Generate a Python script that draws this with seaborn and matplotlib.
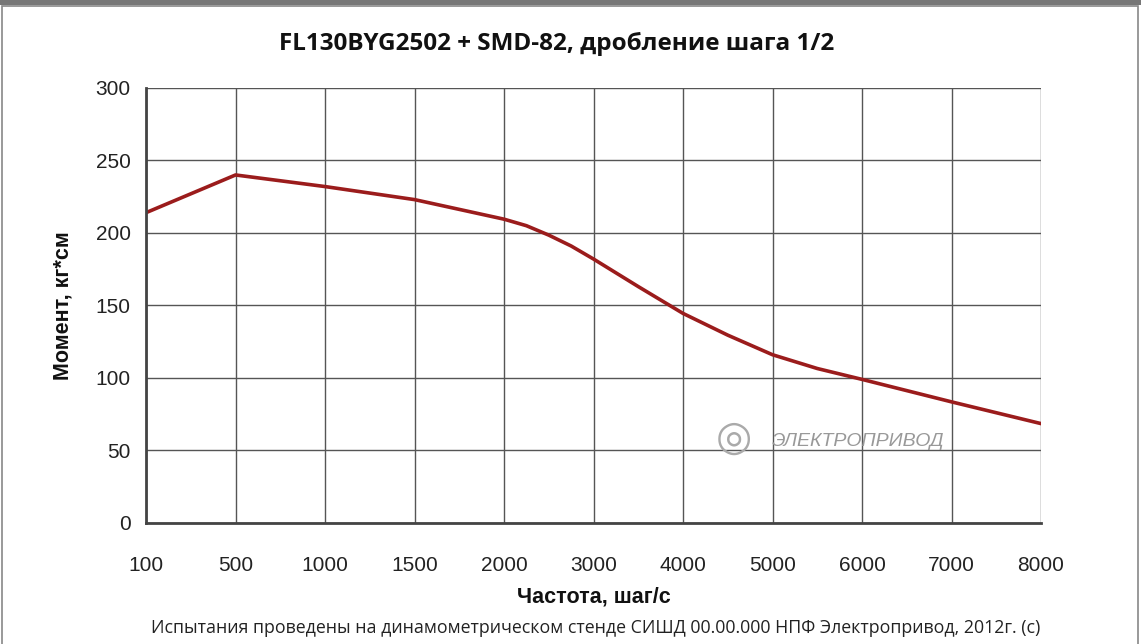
import numpy as np
import pandas as pd
import matplotlib.pyplot as plt
import seaborn as sns
from matplotlib.patches import Rectangle

# axis tick labels (the x axis is categorical: equal spacing between ticks)
tick_freq = [100, 500, 1000, 1500, 2000, 3000, 4000, 5000, 6000, 7000, 8000]
y_ticks = [0, 50, 100, 150, 200, 250, 300]

# curve
freq = [100, 500, 1000, 1500, 2000, 2250, 2500, 2750, 3000, 3500, 4000, 4500, 5000, 5500, 6000, 7000, 8000]
torque = [214, 240, 232, 223, 209.5, 205, 198.5, 191, 182, 163, 144.5, 129.5, 116, 106.5, 99, 83.5, 68.5]

sns.set_style("white")
plt.rcParams['font.family'] = ['Liberation Sans', 'DejaVu Sans']

# map frequency onto the category grid
pos = np.interp(freq, tick_freq, np.arange(len(tick_freq)))
df = pd.DataFrame({'pos': pos, 'torque': torque})

fig = plt.figure(figsize=(11.41, 6.44), dpi=100)
ax = fig.add_axes([0.128, 0.188, 0.7844, 0.6754])

ax.grid(True, color='#555555', linewidth=1)
ax.set_axisbelow(True)
sns.lineplot(data=df, x='pos', y='torque', ax=ax, color='#9b1c1c', linewidth=2.6)

ax.set_xlim(0, len(tick_freq) - 1)
ax.set_ylim(0, 300)
ax.set_xticks(np.arange(len(tick_freq)))
ax.set_xticklabels([str(t) for t in tick_freq])
ax.set_yticks(y_ticks)
ax.tick_params(axis='y', length=8, width=1.5, color='#444444', labelsize=15, labelcolor='#222222', pad=3)
ax.tick_params(axis='x', length=0, labelsize=15, labelcolor='#222222', pad=24)

for s in ['top', 'right']:
    ax.spines[s].set_visible(False)
for s in ['left', 'bottom']:
    ax.spines[s].set_color('#444444')
    ax.spines[s].set_linewidth(2)

ax.set_xlabel('Частота, шаг/с', fontsize=15.5, fontweight='bold', labelpad=8, color='#111111')
ax.set_ylabel('Момент, кг*см', fontsize=15.5, fontweight='bold', labelpad=16, color='#111111')

fig.text(0.4875, 0.932, 'FL130BYG2502 + SMD-82, дробление шага 1/2', ha='center', va='center',
         fontsize=17.5, fontweight='bold', family=['Open Sans', 'DejaVu Sans'], color='#111111')
fig.text(0.522, 0.025, 'Испытания проведены на динамометрическом стенде СИШД 00.00.000 НПФ Электропривод, 2012г. (с)',
         ha='center', va='center', fontsize=12.8, family=['Open Sans', 'DejaVu Sans'], color='#222222')

# watermark
fig.text(0.643, 0.318, '◎', ha='center', va='center', fontsize=30, color='#aaaaaa')
fig.text(0.752, 0.315, 'ЭЛЕКТРОПРИВОД', ha='center', va='center', fontsize=14, color='#999999',
         fontstyle='italic')

# frame around the picture
fig.patches.append(Rectangle((0.002, -0.01), 0.995, 1.0, transform=fig.transFigure,
                             fill=False, edgecolor='#888888', linewidth=1.2))
fig.patches.append(Rectangle((0, 0.992), 1, 0.008, transform=fig.transFigure,
                             facecolor='#777777', edgecolor='none'))

fig.savefig('out.png', dpi=100)
